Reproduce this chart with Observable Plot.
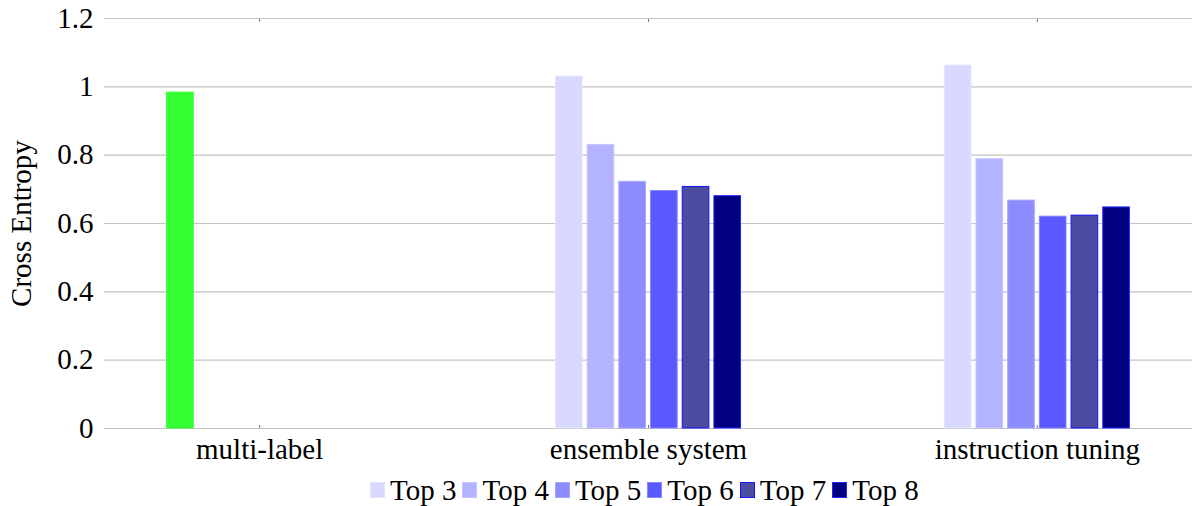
<!DOCTYPE html>
<html>
<head>
<meta charset="utf-8">
<script src="https://cdn.jsdelivr.net/npm/d3@7"></script>
<script src="https://cdn.jsdelivr.net/npm/@observablehq/plot@0.6"></script>
<style>
  html, body { margin: 0; padding: 0; background: #fff; }
  #chart { width: 1192px; height: 506px; overflow: hidden; font-family: "Liberation Serif", "Times New Roman", serif; }
  #plotwrap { position: relative; width: 1192px; height: 470px; }
  #plotwrap svg { position: absolute; left: 0; top: 0; }
  #legend { display: flex; justify-content: flex-start; align-items: center; padding-left: 370px; height: 30px; margin-top: 5px; font-size: 29px; line-height: 30px; color: #000; }
  .item { display: flex; align-items: center; margin-right: 6px; }
  .sw { width: 13px; height: 14px; border: 1px solid; margin-right: 5px; box-sizing: content-box; }
</style>
</head>
<body>
<div id="chart"><div id="plotwrap"></div></div>
<script>
// ---- data ----
const categories = ["multi-label", "ensemble system", "instruction tuning"];
const series = ["Top 3", "Top 4", "Top 5", "Top 6", "Top 7", "Top 8"];
const multiLabel = [0.983];                                   // single bar (Top 3 slot)
const ensembleSystem = [1.030, 0.830, 0.722, 0.695, 0.707, 0.680];
const instructionTuning = [1.062, 0.788, 0.667, 0.620, 0.623, 0.647];
const yTicks = [0, 0.2, 0.4, 0.6, 0.8, 1, 1.2];

// ---- style ----
const fills = ["#d9d9ff", "#b3b3ff", "#8c8cff", "#5959ff", "#4b4ba0", "#000080"];
const strokes = ["#e4e4ff", "#c4c4ff", "#a6a6ff", "#8585ff", "#1414ff", "#2424ff"];
const green = "#33ff33";

const rows = [];
multiLabel.forEach((v, i) => rows.push({group: categories[0], series: series[i], value: v, fill: green, stroke: green}));
ensembleSystem.forEach((v, i) => rows.push({group: categories[1], series: series[i], value: v, fill: fills[i], stroke: strokes[i]}));
instructionTuning.forEach((v, i) => rows.push({group: categories[2], series: series[i], value: v, fill: fills[i], stroke: strokes[i]}));

const common = {
  width: 1192,
  height: 470,
  marginLeft: 104,
  marginRight: 0,
  marginTop: 18,
  marginBottom: 42,
  style: {fontFamily: "'Liberation Serif', 'Times New Roman', serif", fontSize: "29px", color: "#000", background: "transparent"}
};

// backdrop: grid + y axis across the full frame
const backdrop = Plot.plot({
  ...common,
  y: {domain: [0, 1.2], axis: null},
  marks: [
    Plot.ruleY(yTicks, {stroke: "#c4c4c4", strokeWidth: 1.2}),
    Plot.axisY(yTicks, {tickSize: 0, tickPadding: 11, tickFormat: d => String(d),
      label: "Cross Entropy", labelAnchor: "center", labelArrow: "none", labelOffset: 94})
  ]
});

// bars: grouped by category (fx) and series (x)
const bars = Plot.plot({
  ...common,
  fx: {domain: categories, paddingInner: 0.498, paddingOuter: 0.148, round: false, label: null, axis: null},
  x: {domain: series, padding: 0.16, round: false, axis: null},
  y: {domain: [0, 1.2], axis: null},
  color: {type: "identity"},
  marks: [
    Plot.axisFx({anchor: "bottom", tickSize: 0, tickPadding: 10, label: null}),
    Plot.axisFx({anchor: "bottom", tickSize: -3, tickFormat: () => "", label: null, stroke: "#777"}),
    Plot.axisFx({anchor: "top", tickSize: -3, tickFormat: () => "", label: null, stroke: "#777"}),
    Plot.barY(rows, {fx: "group", x: "series", y: "value", fill: "fill", stroke: "stroke", strokeWidth: 1})
  ]
});

const wrap = document.getElementById("plotwrap");
wrap.appendChild(backdrop);
wrap.appendChild(bars);

const legend = document.createElement("div");
legend.id = "legend";
series.forEach((s, i) => {
  const item = document.createElement("div");
  item.className = "item";
  const sw = document.createElement("span");
  sw.className = "sw";
  sw.style.background = fills[i];
  sw.style.borderColor = strokes[i];
  const t = document.createElement("span");
  t.textContent = s;
  item.appendChild(sw);
  item.appendChild(t);
  legend.appendChild(item);
});
document.getElementById("chart").appendChild(legend);
</script>
</body>
</html>
